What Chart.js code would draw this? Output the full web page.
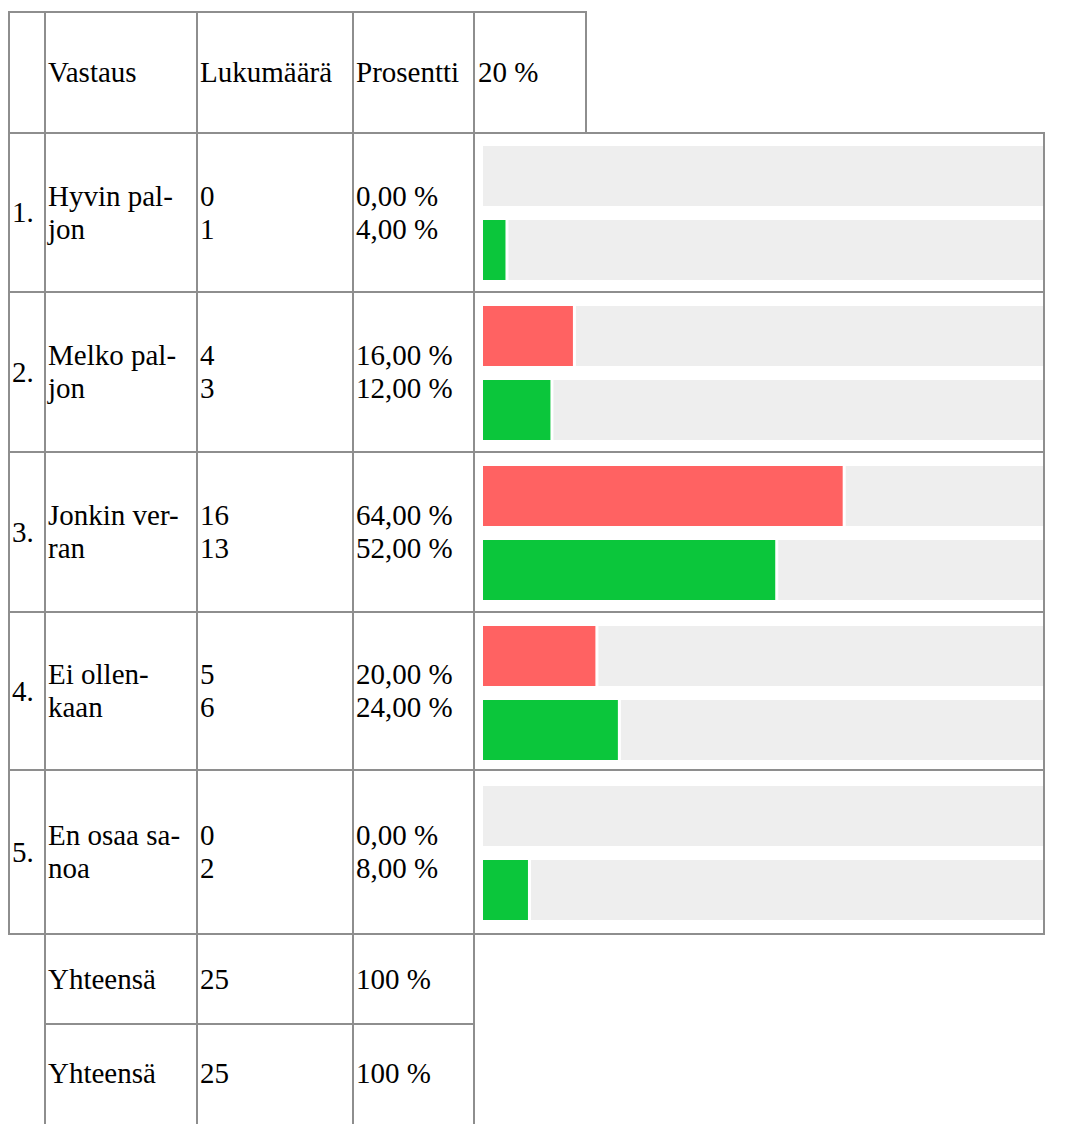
<!DOCTYPE html>
<html>
<head>
<meta charset="utf-8">
<script src="https://cdn.jsdelivr.net/npm/chart.js@4.4.1/dist/chart.umd.min.js"></script>
<style>
  html, body { margin: 0; padding: 0; background: #fff; overflow: hidden; }
  body { width: 1069px; height: 1124px; position: relative; font-family: "Liberation Serif", "Times New Roman", Tinos, "DejaVu Serif", serif; font-size: 29px; line-height: 33px; color: #000; }
  .ln { position: absolute; background: #8e8e8e; z-index: 3; }
  .cell { position: absolute; display: flex; align-items: center; padding-left: 2px; box-sizing: border-box; white-space: nowrap; z-index: 2; }
  #chartWrap { position: absolute; left: 475px; top: 133px; width: 594px; height: 800px; z-index: 1; }
</style>
</head>
<body>
<div id="chartWrap"><canvas id="c" width="594" height="800"></canvas></div>
<script>
// ---- data ----
const headers = ['Vastaus', 'Lukumäärä', 'Prosentti', '20 %'];
const categories = ['Hyvin paljon', 'Melko paljon', 'Jonkin verran', 'Ei ollenkaan', 'En osaa sanoa'];
const categoryLines = [['Hyvin pal-', 'jon'], ['Melko pal-', 'jon'], ['Jonkin ver-', 'ran'], ['Ei ollen-', 'kaan'], ['En osaa sa-', 'noa']];
const countsA = [0, 4, 16, 5, 0];
const countsB = [1, 3, 13, 6, 2];
const percentA = [0, 16, 64, 20, 0];
const percentB = [4, 12, 52, 24, 8];
const totalLabel = 'Yhteensä';
const totalA = 25;
const totalB = 25;
const totalPercent = '100 %';

// ---- layout helpers ----
const body = document.body;
function hline(x1, x2, y) {
  const d = document.createElement('div'); d.className = 'ln';
  d.style.left = x1 + 'px'; d.style.top = y + 'px'; d.style.width = (x2 - x1) + 'px'; d.style.height = '2px';
  body.appendChild(d);
}
function vline(x, y1, y2) {
  const d = document.createElement('div'); d.className = 'ln';
  d.style.left = x + 'px'; d.style.top = y1 + 'px'; d.style.width = '2px'; d.style.height = (y2 - y1) + 'px';
  body.appendChild(d);
}
function cell(x1, x2, y1, y2, html, pad) {
  const d = document.createElement('div'); d.className = 'cell';
  d.style.left = (x1 + 2) + 'px'; d.style.top = (y1 + 2) + 'px';
  d.style.width = (x2 - x1 - 2) + 'px'; d.style.height = (y2 - y1 - 2) + 'px';
  if (pad) d.style.paddingLeft = pad + 'px';
  const s = document.createElement('div'); s.innerHTML = html; d.appendChild(s);
  body.appendChild(d);
}

const cols = [8, 44, 196, 352, 473];
const headerRight = 585;
const tableRight = 1043;
const headTop = 11;
const rowLines = [132, 291, 451, 611, 769, 933];
const footLines = [933, 1023, 1122];

// header
hline(8, headerRight + 2, headTop);
[...cols, headerRight].forEach(x => vline(x, headTop, rowLines[0] + 2));
cell(cols[1], cols[2], headTop, rowLines[0], headers[0]);
cell(cols[2], cols[3], headTop, rowLines[0], headers[1]);
cell(cols[3], cols[4], headTop, rowLines[0], headers[2]);
cell(cols[4], headerRight, headTop, rowLines[0], headers[3], 3);

// body
rowLines.forEach(y => hline(8, tableRight + 2, y));
[...cols, tableRight].forEach(x => vline(x, rowLines[0], rowLines[rowLines.length - 1] + 2));
const fmtPct = v => v.toFixed(2).replace('.', ',') + ' %';
categories.forEach((c, i) => {
  const y1 = rowLines[i], y2 = rowLines[i + 1];
  cell(cols[0], cols[1], y1, y2, (i + 1) + '.');
  cell(cols[1], cols[2], y1, y2, categoryLines[i].join('<br>'));
  cell(cols[2], cols[3], y1, y2, countsA[i] + '<br>' + countsB[i]);
  cell(cols[3], cols[4], y1, y2, fmtPct(percentA[i]) + '<br>' + fmtPct(percentB[i]));
});

// footer
hline(cols[1], cols[4] + 2, footLines[1]);
cols.slice(1).forEach(x => vline(x, footLines[0], 1124));
[totalA, totalB].forEach((t, i) => {
  const y1 = footLines[i], y2 = footLines[i + 1];
  cell(cols[1], cols[2], y1, y2, totalLabel);
  cell(cols[2], cols[3], y1, y2, String(t));
  cell(cols[3], cols[4], y1, y2, totalPercent);
});

// ---- chart ----
const RED = '#ff6262', GREEN = '#0bc63b', GREY = '#eeeeee';
const restA = percentA.map(v => 100 - v);
const restB = percentB.map(v => 100 - v);
const gapBorder = arr => ctx => ({ left: arr[ctx.dataIndex] > 0 ? 3 : 0, right: 0, top: 0, bottom: 0 });

new Chart(document.getElementById('c'), {
  type: 'bar',
  data: {
    labels: categories,
    datasets: [
      { label: 'A', data: percentA, backgroundColor: RED, stack: 'a', borderWidth: 0 },
      { label: 'A rest', data: restA, backgroundColor: GREY, stack: 'a', borderColor: '#ffffff', borderWidth: gapBorder(percentA), borderSkipped: false },
      { label: 'B', data: percentB, backgroundColor: GREEN, stack: 'b', borderWidth: 0 },
      { label: 'B rest', data: restB, backgroundColor: GREY, stack: 'b', borderColor: '#ffffff', borderWidth: gapBorder(percentB), borderSkipped: false }
    ]
  },
  options: {
    indexAxis: 'y',
    responsive: false,
    animation: false,
    events: [],
    layout: { padding: { left: 8, right: 24, top: 0, bottom: 0 } },
    datasets: { bar: { categoryPercentage: 0.925, barPercentage: 0.8108 } },
    scales: {
      x: { stacked: true, min: 0, max: 100, display: false },
      y: { stacked: true, display: false }
    },
    plugins: { legend: { display: false }, tooltip: { enabled: false } }
  }
});
</script>
</body>
</html>
